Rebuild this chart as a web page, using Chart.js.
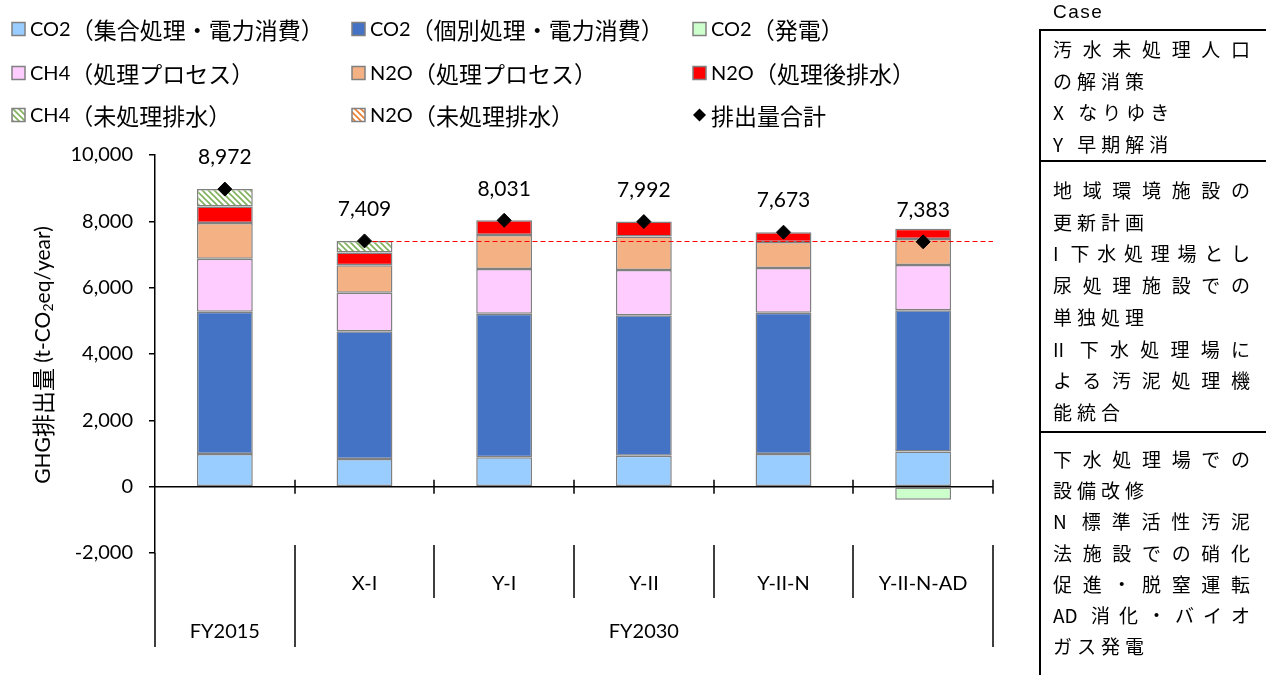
<!DOCTYPE html>
<html lang="ja">
<head>
<meta charset="utf-8">
<title>GHG排出量</title>
<script src="https://cdn.jsdelivr.net/npm/chart.js@4.4.1/dist/chart.umd.min.js"></script>
<style>
  html, body { margin: 0; padding: 0; background: #fff; }
  #wrap { position: relative; width: 1266px; height: 675px; overflow: hidden; }
  #chart { position: absolute; left: 0; top: 0; }
  #caseTitle { position: absolute; left: 1053px; top: 0; font: 19px "Liberation Sans", Arial, sans-serif; line-height: 24px; letter-spacing: 1.5px; }
  #casePanel { position: absolute; left: 1039px; top: 29px; width: 260px; height: 700px; border: 2px solid #000; box-sizing: border-box; }
  .sec { box-sizing: border-box; padding-left: 12px; }
  .sec + .sec { border-top: 2px solid #000; }
  .ln { font-family: "Noto Sans CJK JP", sans-serif; font-size: 19px; letter-spacing: 5px; white-space: nowrap; }
  .ln.full { width: 197px; letter-spacing: 0; white-space: normal; text-align: justify; text-align-last: justify; }
</style>
</head>
<body>
<div id="wrap">
  <canvas id="chart" width="1266" height="675"></canvas>
  <div id="caseTitle">Case</div>
  <div id="casePanel">
    <div class="sec" style="height:129px;padding-top:2px;line-height:31.7px">
      <div class="ln full">汚水未処理人口</div>
      <div class="ln">の解消策</div>
      <div class="ln">X なりゆき</div>
      <div class="ln">Y 早期解消</div>
    </div>
    <div class="sec" style="height:271px;padding-top:12px;line-height:31.7px">
      <div class="ln full">地域環境施設の</div>
      <div class="ln">更新計画</div>
      <div class="ln full">I 下水処理場とし</div>
      <div class="ln full">尿処理施設での</div>
      <div class="ln">単独処理</div>
      <div class="ln full">II 下水処理場に</div>
      <div class="ln full">よる汚泥処理機</div>
      <div class="ln">能統合</div>
    </div>
    <div class="sec" style="padding-top:10px;line-height:31.2px">
      <div class="ln full">下水処理場での</div>
      <div class="ln">設備改修</div>
      <div class="ln full">N 標準活性汚泥</div>
      <div class="ln full">法施設での硝化</div>
      <div class="ln full">促進・脱窒運転</div>
      <div class="ln full">AD 消化・バイオ</div>
      <div class="ln">ガス発電</div>
    </div>
  </div>
</div>
<script>
// ---- data (t-CO2eq/year) ----
const caseLabels = ['', 'X-I', 'Y-I', 'Y-II', 'Y-II-N', 'Y-II-N-AD'];
const groupLabels = ['FY2015', 'FY2030'];
const groupSpans = [[0, 0], [1, 5]];

const co2Central   = [983, 833, 884, 932, 983, 1064];
const co2Onsite    = [4289, 3856, 4328, 4238, 4259, 4256];
const co2Power     = [null, null, null, null, null, -393];
const ch4Process   = [1602, 1154, 1353, 1365, 1352, 1365];
const n2oProcess   = [1073, 830, 1021, 1009, 782, 781];
const n2oEffluent  = [499, 390, 445, 448, 297, 310];
const ch4Untreated = [526, 346, null, null, null, null];
const n2oUntreated = [null, null, null, null, null, null];
const totals       = [8972, 7409, 8031, 7992, 7673, 7383];

const yMin = -2000, yMax = 10000, yStep = 2000;

const LATIN = 'Lato, "Liberation Sans", sans-serif';
const CJK = '"Noto Sans CJK JP", sans-serif';

// ---- hatch fill for the untreated series ----
function stripes(color) {
  const c = document.createElement('canvas');
  c.width = 6; c.height = 6;
  const g = c.getContext('2d');
  g.fillStyle = '#fff';
  g.fillRect(0, 0, 6, 6);
  g.strokeStyle = color;
  g.lineWidth = 1.6;
  g.beginPath();
  g.moveTo(-2, -2); g.lineTo(8, 8);
  g.moveTo(-2, 4); g.lineTo(2, 8);
  g.moveTo(4, -2); g.lineTo(8, 2);
  g.stroke();
  return g.createPattern(c, 'repeat');
}

function barSet(label, data, fill) {
  return {
    type: 'bar', label, data,
    backgroundColor: fill,
    borderColor: '#808080',
    borderWidth: 1.5,
    borderSkipped: false,
    barPercentage: 0.4,
    categoryPercentage: 1,
    stack: 'ghg'
  };
}

// mixed latin / japanese text runs
function runs(text, latinFont, cjkFont) {
  return text.match(/[\x00-\x7F]+|[^\x00-\x7F]+/g).map(t => ({
    t, font: /^[\x00-\x7F]/.test(t) ? latinFont : cjkFont
  }));
}
function runsWidth(ctx, parts) {
  let w = 0;
  parts.forEach(p => { ctx.font = p.font; w += ctx.measureText(p.t).width; });
  return w;
}
function drawRuns(ctx, parts, x, y) {
  let cx = x;
  parts.forEach(p => {
    ctx.font = p.font;
    ctx.fillText(p.t, cx, y + (p.dy || 0));
    cx += ctx.measureText(p.t).width;
  });
}

// ---- legend (3 columns) ----
const legendGrid = {
  id: 'legendGrid',
  afterDraw(chart) {
    const ctx = chart.ctx;
    const colX = [12, 352, 693];
    const rowY = [29, 73, 115];
    ctx.save();
    ctx.textBaseline = 'middle';
    ctx.fillStyle = '#000';
    chart.data.datasets.forEach((ds, i) => {
      const x = colX[i % 3], y = rowY[Math.floor(i / 3)];
      if (ds.type === 'line') {
        ctx.beginPath();
        ctx.moveTo(x + 6.5, y - 6.5);
        ctx.lineTo(x + 13, y);
        ctx.lineTo(x + 6.5, y + 6.5);
        ctx.lineTo(x, y);
        ctx.closePath();
        ctx.fillStyle = '#000';
        ctx.fill();
      } else {
        ctx.fillStyle = ds.backgroundColor;
        ctx.fillRect(x, y - 6.5, 13, 13);
        ctx.strokeStyle = '#808080';
        ctx.lineWidth = 1.5;
        ctx.strokeRect(x, y - 6.5, 13, 13);
      }
      ctx.fillStyle = '#000';
      drawRuns(ctx, runs(ds.label, '20px ' + LATIN, '23px ' + CJK), x + 18, y + 1);
    });
    ctx.restore();
  }
};

// ---- zero line, category table under the plot ----
const categoryAxis = {
  id: 'categoryAxis',
  afterDatasetsDraw(chart) {
    const { ctx, scales: { x, y } } = chart;
    const n = caseLabels.length;
    const w = (x.right - x.left) / n;
    const y0 = y.getPixelForValue(0);
    const rowTop = 545, rowMid = 598, rowBottom = 647;
    ctx.save();
    ctx.strokeStyle = '#000';
    ctx.lineWidth = 1.5;
    ctx.beginPath();
    ctx.moveTo(x.left, y0);
    ctx.lineTo(x.right, y0);
    for (let k = 1; k <= n; k++) {
      const bx = Math.round(x.left + k * w);
      ctx.moveTo(bx, y0 - 7);
      ctx.lineTo(bx, y0 + 7);
    }
    // y axis runs down through the label table
    ctx.moveTo(x.left, y.bottom);
    ctx.lineTo(x.left, rowBottom);
    const groupEdges = new Set();
    groupSpans.forEach(([a, b]) => { groupEdges.add(a); groupEdges.add(b + 1); });
    for (let k = 1; k <= n; k++) {
      const bx = Math.round(x.left + k * w);
      ctx.moveTo(bx, rowTop);
      ctx.lineTo(bx, groupEdges.has(k) ? rowBottom : rowMid);
    }
    ctx.stroke();

    ctx.fillStyle = '#000';
    ctx.textAlign = 'center';
    ctx.textBaseline = 'middle';
    ctx.font = '20px ' + LATIN;
    caseLabels.forEach((lab, i) => {
      if (lab) ctx.fillText(lab, x.getPixelForValue(i), 584);
    });
    groupSpans.forEach(([a, b], g) => {
      const cx = (x.left + a * w + x.left + (b + 1) * w) / 2;
      ctx.fillText(groupLabels[g], cx, 632);
    });
    ctx.restore();
  },
  afterDraw(chart) {
    // y axis title with subscript
    const ctx = chart.ctx;
    const parts = [
      { t: 'GHG', font: '21px ' + LATIN },
      { t: '排出量', font: '23px ' + CJK },
      { t: ' (t-CO', font: '21px ' + LATIN },
      { t: '2', font: '14px ' + LATIN, dy: 5 },
      { t: 'eq/year)', font: '21px ' + LATIN }
    ];
    ctx.save();
    ctx.translate(42, 355);
    ctx.rotate(-Math.PI / 2);
    ctx.fillStyle = '#000';
    ctx.textBaseline = 'middle';
    drawRuns(ctx, parts, -runsWidth(ctx, parts) / 2, 1);
    ctx.restore();
  }
};

// ---- baseline at X-I total, and total labels ----
const totalMarks = {
  id: 'totalMarks',
  beforeDatasetDraw(chart, args) {
    if (chart.data.datasets[args.index].type !== 'line') return;
    const { ctx, scales: { x, y } } = chart;
    const yy = Math.round(y.getPixelForValue(totals[1])) + 0.5;
    ctx.save();
    ctx.strokeStyle = '#ff0000';
    ctx.lineWidth = 1;
    ctx.setLineDash([5, 3]);
    ctx.beginPath();
    ctx.moveTo(x.getPixelForValue(1), yy);
    ctx.lineTo(x.right, yy);
    ctx.stroke();
    ctx.restore();
  },
  afterDatasetsDraw(chart) {
    const ctx = chart.ctx;
    const idx = chart.data.datasets.findIndex(d => d.type === 'line');
    const meta = chart.getDatasetMeta(idx);
    ctx.save();
    ctx.fillStyle = '#000';
    ctx.font = '21px ' + LATIN;
    ctx.textAlign = 'center';
    ctx.textBaseline = 'middle';
    meta.data.forEach((pt, i) => {
      ctx.fillText(totals[i].toLocaleString('en-US'), pt.x, pt.y - 31.5);
    });
    ctx.restore();
  }
};

new Chart(document.getElementById('chart').getContext('2d'), {
  type: 'bar',
  data: {
    labels: caseLabels,
    datasets: [
      barSet('CO2（集合処理・電力消費）', co2Central, '#99ccff'),
      barSet('CO2（個別処理・電力消費）', co2Onsite, '#4472c4'),
      barSet('CO2（発電）', co2Power, '#ccffcc'),
      barSet('CH4（処理プロセス）', ch4Process, '#ffccff'),
      barSet('N2O（処理プロセス）', n2oProcess, '#f4b183'),
      barSet('N2O（処理後排水）', n2oEffluent, '#ff0000'),
      barSet('CH4（未処理排水）', ch4Untreated, stripes('#7fb05a')),
      barSet('N2O（未処理排水）', n2oUntreated, stripes('#ed7d31')),
      {
        type: 'line',
        label: '排出量合計',
        data: totals,
        showLine: false,
        pointStyle: 'rectRot',
        pointRadius: 7,
        pointBackgroundColor: '#000',
        pointBorderColor: '#000',
        order: -1
      }
    ]
  },
  options: {
    responsive: false,
    animation: false,
    devicePixelRatio: 1,
    layout: { padding: { top: 155, left: 0, right: 273, bottom: 122 } },
    plugins: { legend: { display: false }, tooltip: { enabled: false } },
    scales: {
      x: { display: false, stacked: true, offset: true },
      y: {
        stacked: true,
        min: yMin,
        max: yMax,
        ticks: {
          stepSize: yStep,
          color: '#000',
          padding: 16,
          font: { family: LATIN, size: 20 },
          callback: v => v.toLocaleString('en-US')
        },
        grid: { drawOnChartArea: false, drawTicks: true, tickLength: 6, color: '#000', lineWidth: 1.5 },
        border: { color: '#000', width: 1.5 },
        afterFit(scale) { scale.width = 155; }
      }
    }
  },
  plugins: [legendGrid, categoryAxis, totalMarks]
});
</script>
</body>
</html>
